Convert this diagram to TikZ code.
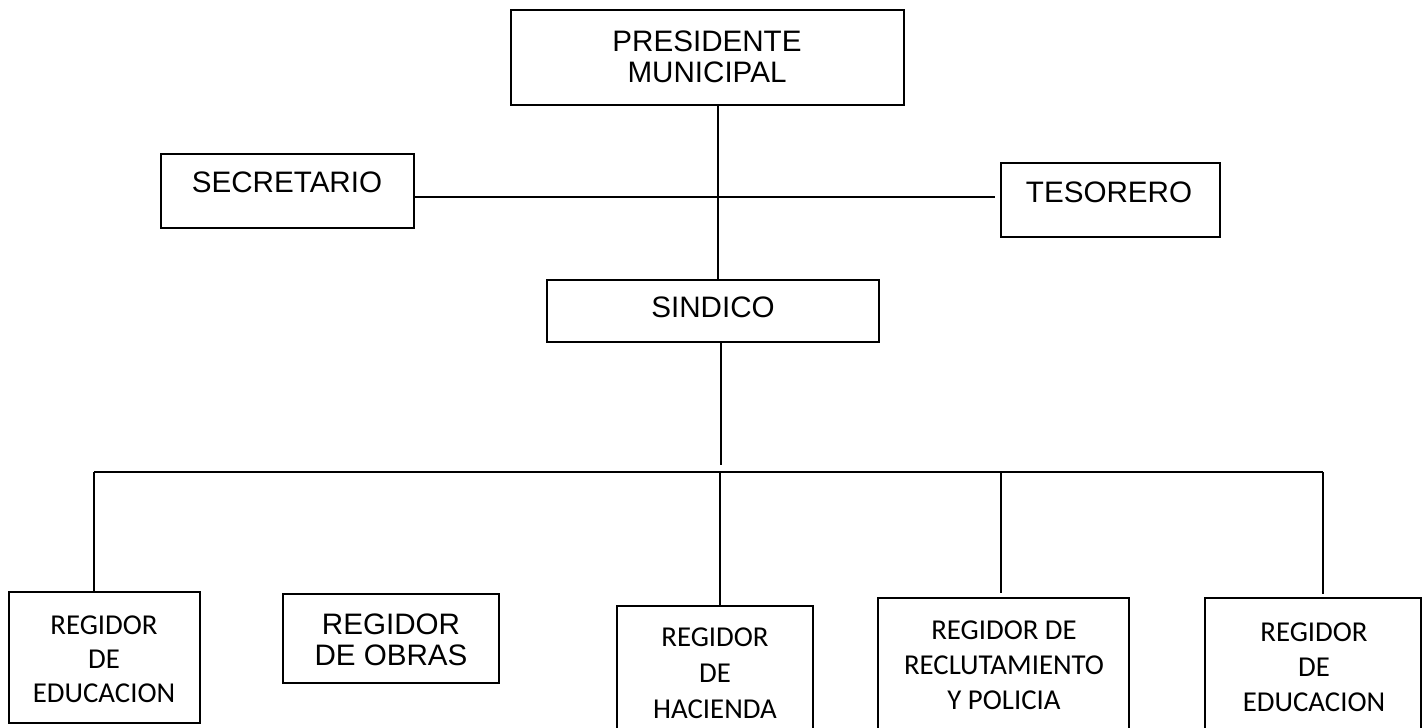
\documentclass[tikz,border=0pt]{standalone}
\usepackage{fontspec}
\newfontfamily\arialf{Liberation Sans}
\newfontfamily\calibrif{Carlito}
\begin{document}
\begin{tikzpicture}[x=1pt,y=-1pt,line width=1.9pt,
  box/.style={draw, rectangle, inner sep=0pt, outer sep=0pt},
  atext/.style={font=\arialf\fontsize{29.6}{30.5}\selectfont, align=center, inner sep=0pt},
  ctext/.style={font=\calibrif\fontsize{28.8}{35}\selectfont, align=center, inner sep=0pt}]
\useasboundingbox (0,0) rectangle (1424,728);
\clip (0,0) rectangle (1424,728);
\fill[white] (0,0) rectangle (1424,728);
% boxes
\node[box, minimum width=393pt, minimum height=95pt] (pres) at (707.5,57.5) {};
\node[box, minimum width=253pt, minimum height=74pt] (sec) at (287.5,191) {};
\node[box, minimum width=219pt, minimum height=74pt] (tes) at (1110.5,200) {};
\node[box, minimum width=332pt, minimum height=62pt] (sind) at (713,311) {};
\node[box, minimum width=191pt, minimum height=131pt] (b1) at (104.5,657.5) {};
\node[box, minimum width=216pt, minimum height=89pt] (b2) at (391,638.5) {};
\node[box, minimum width=196pt, minimum height=154pt] (b3) at (715,683) {};
\node[box, minimum width=251pt, minimum height=162pt] (b4) at (1003.5,679) {};
\node[box, minimum width=216pt, minimum height=162pt] (b5) at (1313,679) {};
% texts
\node[atext] (presT) at (707,57) {PRESIDENTE\\MUNICIPAL};
\node[atext] (secT) at (287,182) {SECRETARIO};
\node[atext] (tesT) at (1109,192) {TESORERO};
\node[atext] (sindT) at (713,307) {SINDICO};
\node[ctext, font=\calibrif\fontsize{28.8}{34}\selectfont] (b1T) at (104,659) {REGIDOR\\DE\\EDUCACION};
\node[atext] (b2T) at (391,640) {REGIDOR\\DE OBRAS};
\node[ctext, font=\calibrif\fontsize{28.8}{36}\selectfont] (b3T) at (715,673) {REGIDOR\\DE\\HACIENDA};
\node[ctext] (b4T) at (1004,665) {REGIDOR DE\\RECLUTAMIENTO\\Y POLICIA};
\node[ctext] (b5T) at (1314,667) {REGIDOR\\DE\\EDUCACION};
% connectors
\draw ([xshift=10.5pt]pres.south) -- ([xshift=10.5pt]pres.south |- sind.north);
\coordinate (tesgap) at ([xshift=-6pt]tes.west);
\draw ([yshift=-6pt]sec.east) -- ([yshift=-6pt]sec.east -| tesgap);
\draw ([xshift=8pt]sind.south) -- ++(0,123);
\coordinate (busL) at (94,472);
\coordinate (busR) at (1323,472);
\coordinate (j3) at (720,472);
\coordinate (j4) at (1001,472);
\draw (busL) -- (busR);
\draw (busL) -- (busL |- b1.north);
\draw (j3) -- (j3 |- b3.north);
\draw (j4) -- ([yshift=5pt]j4 |- b4.north);
\draw (busR) -- ([yshift=4pt]busR |- b5.north);
\end{tikzpicture}
\end{document}
